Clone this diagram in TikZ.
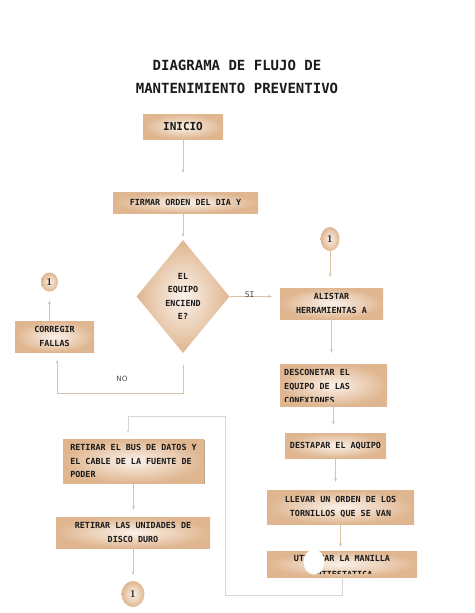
\documentclass[tikz,border=0pt]{standalone}
\usepackage{fontspec}
\setmonofont{DejaVu Sans Mono}
\setsansfont{DejaVu Sans}
\usetikzlibrary{shapes.geometric,arrows.meta,shadows}
\definecolor{cajaclaro}{HTML}{FBF2EA}
\definecolor{cajaosc}{HTML}{DFB690}
\definecolor{lineacol}{HTML}{D9C2A8}
\definecolor{retornocol}{HTML}{D6D6D6}
\definecolor{tinta}{HTML}{1A1A1A}
\definecolor{sombracol}{HTML}{9C7A5A}
\newcommand\letra{\ttfamily\bfseries\fontsize{8.4}{13.5}\selectfont}
\tikzset{caja/.style={rectangle,shade,shading=radial,inner color=cajaclaro,outer color=cajaosc,inner sep=0pt,font=\letra,text=tinta,align=center},
	circulo/.style={ellipse,shade,shading=radial,inner color=cajaclaro,outer color=cajaosc,inner sep=0pt,font=\bfseries\fontsize{10.5}{11}\selectfont,text=tinta},
	texto/.style={inner sep=0pt,font=\letra,text=tinta},
	flecha/.style={draw=lineacol,line width=0.8pt,-{Stealth[length=3.5pt,width=3pt]}},
	retorno/.style={draw=retornocol,line width=0.7pt,-{Stealth[length=3pt,width=2.6pt]}}}

\begin{document}
\begin{tikzpicture}[x=1pt,y=-1pt]
	\useasboundingbox (0,0) rectangle (474,613);
	
	\node[font=\ttfamily\bfseries\fontsize{14}{22.5}\selectfont,align=center,text=tinta] (titulo) at (237,77) {DIAGRAMA DE FLUJO DE\\MANTENIMIENTO PREVENTIVO};
	
	\node[caja,minimum width=80pt,minimum height=25pt,font=\ttfamily\bfseries\fontsize{11}{13}\selectfont] (inicio) at (183,126.5) {INICIO};
	\node[caja,minimum width=145pt,minimum height=21pt] (firmar) at (185.5,202.5) {FIRMAR ORDEN DEL DIA Y};
	\node[caja,diamond,minimum width=93pt,minimum height=113pt] (rombo) at (183,296.5) {EL\\EQUIPO\\ENCIEND\\E?};
	\node[caja,minimum width=103pt,minimum height=31pt] (alistar) at (331.5,303.5) {ALISTAR\\HERRAMIENTAS A};
	\node[caja,minimum width=107pt,minimum height=42pt] (desconetar) at (333.5,385) {};
	\node[caja,minimum width=101pt,minimum height=25pt] (destapar) at (335.5,445.5) {DESTAPAR EL AQUIPO};
	\node[caja,minimum width=147pt,minimum height=34pt] (llevar) at (340.5,507) {LLEVAR UN ORDEN DE LOS\\TORNILLOS QUE SE VAN};
	\node[caja,minimum width=150pt,minimum height=26pt] (utilizar) at (342,564) {};
	\node[caja,minimum width=79pt,minimum height=31pt] (corregir) at (54.5,336.5) {CORREGIR\\FALLAS};
	\node[caja,align=left,minimum width=141pt,minimum height=44pt,drop shadow={shadow xshift=1.2pt,shadow yshift=-1.2pt,fill=sombracol,opacity=.7}] (retbus) at (133.5,461) {RETIRAR EL BUS DE DATOS Y\\EL CABLE DE LA FUENTE DE\\PODER};
	\node[caja,minimum width=154pt,minimum height=31pt] (retunid) at (133,532.5) {RETIRAR LAS UNIDADES DE\\DISCO DURO};
	
	\foreach \nombre/\x/\y/\an/\al in {c1/330/239/19/24,c2/49.5/282/17/19,c3/133/594/23/26}{
		\node[circulo,minimum width=\an pt,minimum height=\al pt] (\nombre) at (\x,\y) {1};
	}
	
	\begin{scope}
		\clip ([yshift=5pt]desconetar.south west) rectangle (desconetar.north east);
		\node[texto,anchor=north west,align=left,font=\ttfamily\bfseries\fontsize{8.4}{14}\selectfont] (txtdescon) at (284,369) {DESCONETAR EL\\EQUIPO DE LAS\\CONEXIONES};
	\end{scope}
	\begin{scope}
		\clip ([yshift=3.5pt]utilizar.south west) rectangle (utilizar.north east);
		\node[texto,anchor=north,align=center,font=\ttfamily\bfseries\fontsize{8.4}{16}\selectfont] (txtutil) at (342,555) {UTILIZAR LA MANILLA\\ANTIESTATICA};
	\end{scope}
	\node[ellipse,fill=white,inner sep=0pt,minimum width=21pt,minimum height=25pt] (mancha) at (314,562) {};
	
	\foreach \a/\b/\s in {inicio/firmar/19,c1/alistar/11,alistar/desconetar/11,desconetar/destapar/8,destapar/llevar/8,llevar/utilizar/4,retbus/retunid/7,retunid/c3/6}{
		\draw[flecha,shorten >=\s pt] (\a.south) -- (\a.south |- \b.north);
	}
	\draw[flecha,shorten >=3pt] (rombo.north |- firmar.south) -- (rombo.north);
	\draw[flecha,shorten >=9pt] (c2.south |- corregir.north) -- (c2.south);
	\draw[flecha,shorten >=8pt] (rombo.east) -- (rombo.east -| alistar.west)
	node[pos=0.4,anchor=base,yshift=-1pt,font=\ttfamily\fontsize{8}{9}\selectfont,text=tinta!80] (si) {SI};
	\draw[flecha,shorten <=12pt,shorten >=8pt] (rombo.south) -- ++(0,40) -| ([xshift=2.5pt]corregir.south);
	\node[font=\sffamily\fontsize{7.2}{8}\selectfont,text=tinta!80] (no) at (122,379) {NO};
	
	\coordinate (esqA) at (225,595);
	\coordinate (esqB) at (225,416);
	\draw[retorno,shorten >=6pt] (utilizar.south) |- (esqA) -- (esqB) -| ([xshift=-5.5pt]retbus.north);
\end{tikzpicture}
\end{document}
